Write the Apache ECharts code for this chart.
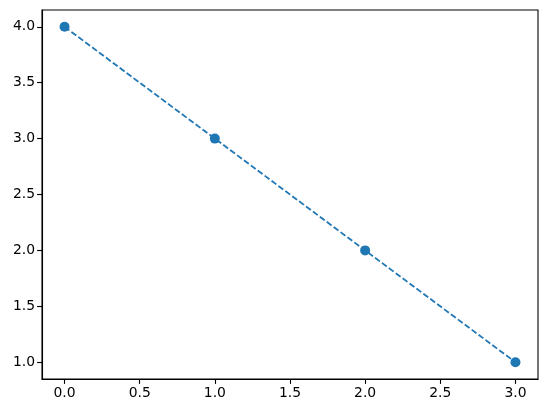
<!DOCTYPE html>
<html>
<head>
<meta charset="utf-8">
<script src="https://cdn.jsdelivr.net/npm/echarts@6/dist/echarts.min.js"></script>
<style>html,body{margin:0;padding:0;background:#fff;}#c{width:547px;height:413px;}</style>
</head>
<body>
<div id="c"></div>
<script>
var xValues = [0, 1, 2, 3];
var yValues = [4, 3, 2, 1];
var xTicks = [0, 0.5, 1, 1.5, 2, 2.5, 3];
var yTicks = [1, 1.5, 2, 2.5, 3, 3.5, 4];

var chart = echarts.init(document.getElementById('c'), null, {renderer: 'canvas'});
var data = xValues.map(function (x, i) { return [x, yValues[i]]; });
var font = {fontFamily: 'DejaVu Sans', fontSize: 13.9, color: '#000'};
chart.setOption({
  animation: false,
  backgroundColor: '#fff',
  grid: {left: 42, right: 9, top: 10, bottom: 34, show: true, borderColor: '#000', borderWidth: 1.1, containLabel: false},
  xAxis: {
    type: 'value', min: -0.15, max: 3.15,
    splitLine: {show: false},
    axisLine: {show: true, onZero: false, lineStyle: {color: '#000', width: 1.1}},
    axisTick: {show: true, length: 4.9, lineStyle: {color: '#000', width: 1.1}, customValues: xTicks},
    axisLabel: Object.assign({margin: 7, customValues: xTicks, formatter: function (v) { return Number(v).toFixed(1); }}, font)
  },
  yAxis: {
    type: 'value', min: 0.85, max: 4.15,
    splitLine: {show: false},
    axisLine: {show: true, onZero: false, lineStyle: {color: '#000', width: 1.1}},
    axisTick: {show: true, length: 4.9, lineStyle: {color: '#000', width: 1.1}, customValues: yTicks},
    axisLabel: Object.assign({margin: 7, customValues: yTicks, formatter: function (v) { return Number(v).toFixed(1); }}, font)
  },
  series: [{
    type: 'line',
    data: data,
    symbol: 'circle',
    symbolSize: 10,
    showAllSymbol: true,
    itemStyle: {color: '#1f77b4'},
    lineStyle: {color: '#1f77b4', width: 1.8, type: [6, 2.6]}
  }]
});
</script>
</body>
</html>
